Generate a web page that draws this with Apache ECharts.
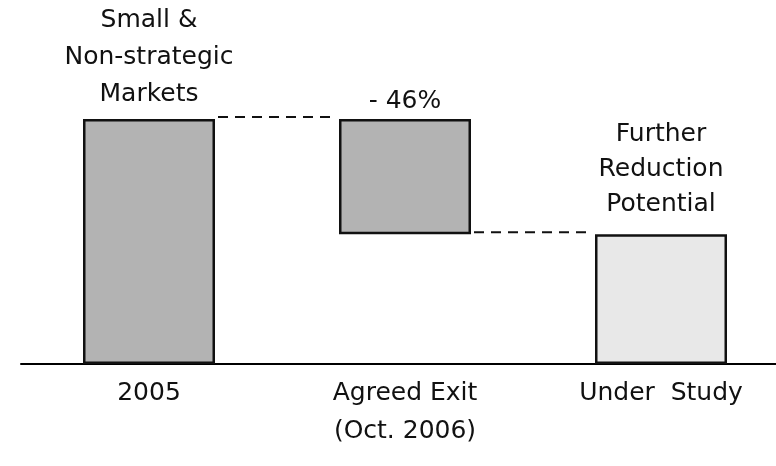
<!DOCTYPE html>
<html>
<head>
<meta charset="utf-8">
<script src="https://cdn.jsdelivr.net/npm/echarts@6/dist/echarts.min.js"></script>
<style>
  html, body { margin: 0; padding: 0; background: #fff; }
  #chart { width: 776px; height: 466px; }
</style>
</head>
<body>
<div id="chart"></div>
<script>
// waterfall: 2005 level, exit step, what is left
const categories = ['2005', 'Agreed Exit\n(Oct. 2006)', 'Under  Study']
const barValues = [100, 47, 53]
const baseValues = [0, 53, 0]
const topLabels = ['Small &\nNon-strategic\nMarkets', '- 46%', 'Further\nReduction\nPotential']
const barColors = ['#b3b3b3', '#b3b3b3', '#e8e8e8']
// connector levels: from category i to i+1
const connectors = [[0, 100], [1, 53]]

const FONT = 'DejaVu Sans'
const BAR_W = 132
const labelTweaks = [
  { distance: 6, lineHeight: 37 },
  { distance: 5, lineHeight: 26 },
  { distance: 12, lineHeight: 35 },
]

const chart = echarts.init(document.getElementById('chart'))

chart.setOption({
  animation: false,
  grid: { left: 21, width: 768, top: 119, bottom: 102, outerBoundsMode: 'none', containLabel: false },
  xAxis: {
    type: 'category',
    data: categories,
    axisLine: { lineStyle: { color: '#000', width: 2 } },
    axisTick: { show: false },
    axisLabel: {
      color: '#111',
      fontFamily: FONT,
      fontSize: 25,
      lineHeight: 38,
      margin: 10,
      interval: 0,
    },
  },
  yAxis: {
    type: 'value',
    min: 0,
    max: 100,
    show: false,
    splitLine: { show: false },
  },
  series: [
    {
      type: 'bar',
      stack: 'w',
      data: baseValues,
      barWidth: BAR_W,
      itemStyle: { color: 'transparent' },
      silent: true,
    },
    {
      type: 'bar',
      stack: 'w',
      barWidth: BAR_W,
      z: 3,
      data: barValues.map((v, i) => ({
        value: v,
        itemStyle: { color: barColors[i], borderColor: '#111', borderWidth: 2.5 },
        label: {
          show: true,
          position: 'top',
          formatter: topLabels[i],
          color: '#111',
          fontFamily: FONT,
          fontSize: 25,
          align: 'center',
          distance: labelTweaks[i].distance,
          lineHeight: labelTweaks[i].lineHeight,
        },
      })),
    },
    {
      type: 'custom',
      z: 2,
      data: connectors,
      renderItem: (params, api) => {
        const p = api.coord([api.value(0), api.value(1)])
        const band = api.size([1, 0])[0]
        const y = p[1] - 2
        return {
          type: 'line',
          shape: { x1: p[0] + BAR_W / 2 + 3, y1: y, x2: p[0] + band - BAR_W / 2 - 2, y2: y },
          style: { stroke: '#111', lineWidth: 2, lineDash: [10, 7] },
        }
      },
    },
  ],
})
</script>
</body>
</html>
